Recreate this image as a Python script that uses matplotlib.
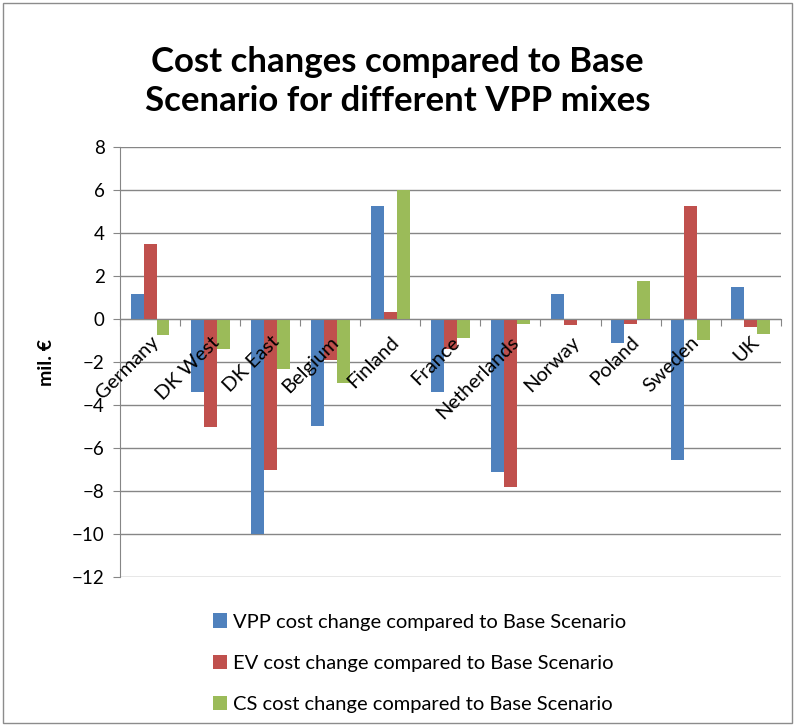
import numpy as np
import matplotlib.pyplot as plt
from matplotlib.patches import Rectangle

plt.rcParams['font.family'] = ['Lato', 'DejaVu Sans']

countries = ["Germany", "DK West", "DK East", "Belgium", "Finland", "France",
             "Netherlands", "Norway", "Poland", "Sweden", "UK"]
vpp = [1.2, -3.4, -10.0, -4.95, 5.25, -3.4, -7.1, 1.2, -1.1, -6.55, 1.5]
ev = [3.5, -5.0, -7.0, -1.9, 0.35, -1.4, -7.8, -0.25, -0.2, 5.25, -0.35]
cs = [-0.75, -1.4, -2.3, -2.95, 6.0, -0.85, -0.2, 0.0, 1.8, -0.95, -0.7]
series_names = ["VPP cost change compared to Base Scenario",
                "EV cost change compared to Base Scenario",
                "CS cost change compared to Base Scenario"]
colors = ["#4F81BD", "#C0504D", "#9BBB59"]
yticks = np.arange(-12, 9, 2)

fig = plt.figure(figsize=(7.95, 7.26), dpi=100)
fig.patches.append(Rectangle((0.004, 0.004), 0.992, 0.992, transform=fig.transFigure,
                             fill=False, edgecolor="#8c8c8c", linewidth=1))
ax = fig.add_axes([0.151, 0.205, 0.831, 0.592])

x = np.arange(len(countries))
w = 0.215
handles = []
for k, (vals, c) in enumerate(zip([vpp, ev, cs], colors)):
    h = ax.bar(x + (k - 1) * w, vals, w, color=c, zorder=2)
    handles.append(h)

# gridlines drawn by hand so the category labels can sit above the bars
for yv in yticks:
    ax.axhline(yv, color="#868686", linewidth=1, zorder=1)

ax.set_xlim(-0.5, len(countries) - 0.5)
ax.set_ylim(-12, 8)
ax.set_yticks(yticks)
ax.tick_params(axis="y", length=5, color="#868686", labelsize=13.5, pad=6)

# category axis at zero, ticks at boundaries, labels at centres
ax.spines["bottom"].set_position(("data", 0))
ax.spines["bottom"].set_color("#868686")
ax.spines["bottom"].set_zorder(3)
ax.spines["left"].set_color("#868686")
ax.spines["top"].set_visible(False)
ax.spines["right"].set_visible(False)
ax.set_xticks(np.arange(-0.5, len(countries), 1))
ax.set_xticklabels([])
ax.tick_params(axis="x", which="major", length=5, color="#868686")
ax.set_xticks(x, minor=True)
ax.set_xticklabels(countries, minor=True, rotation=45, ha="right",
                   rotation_mode="anchor", fontsize=14.5)
ax.tick_params(axis="x", which="minor", length=0, pad=10)
ax.xaxis.set_zorder(5)

ax.set_ylabel("mil. €", fontsize=14, fontweight="bold", labelpad=12)

fig.text(0.5, 0.888, "Cost changes compared to Base\nScenario for different VPP mixes",
         ha="center", va="center", fontsize=25, fontweight="bold", linespacing=1.25)

fig.legend(handles, series_names, loc="upper left", bbox_to_anchor=(0.245, 0.18),
           frameon=False, fontsize=14.5, handlelength=0.7, handleheight=0.7,
           handletextpad=0.3, labelspacing=1.2)

fig.savefig("out.png", dpi=100)
